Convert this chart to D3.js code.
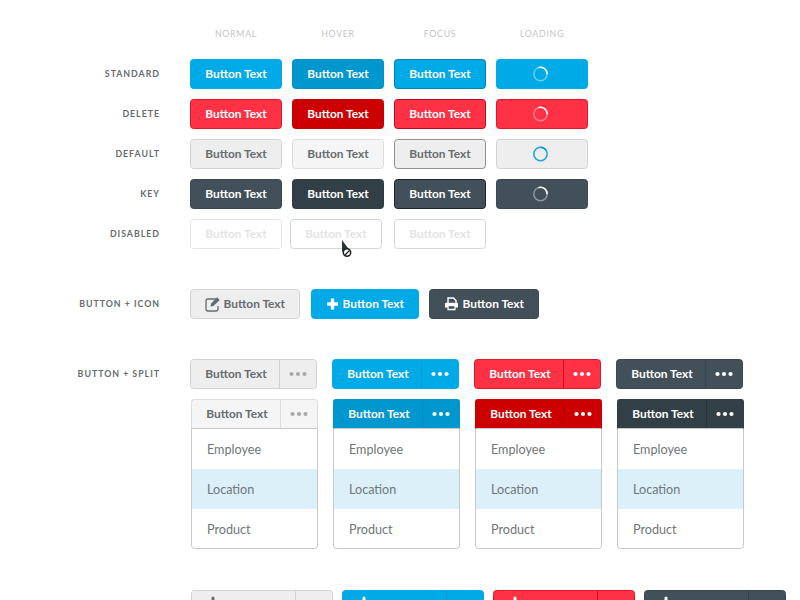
<!DOCTYPE html>
<html><head><meta charset="utf-8">
<script src="https://cdnjs.cloudflare.com/ajax/libs/d3/7.8.5/d3.min.js"></script>
<style>html,body{margin:0;background:#fff;overflow:hidden}svg{display:block}
text{font-family:"Lato","Noto Sans",sans-serif}</style></head><body>
<svg id="c" width="800" height="600"></svg>
<script>
const states=["NORMAL","HOVER","FOCUS","LOADING"];
const rowNames=["STANDARD","DELETE","DEFAULT","KEY","DISABLED"];
const sectionLabels=["BUTTON + ICON","BUTTON + SPLIT"];
const buttonText="Button Text";
const menuItems=["Employee","Location","Product"];
const iconKinds=["edit","plus","print"];
const splitKinds=["default","standard","delete","key"];

const theme={
 standard:{normal:["#00aae7","#00aae7","#fff"],hover:["#0097cf","#0090c6","#fff"],focus:["#00aae7","#0080ae","#fff"],spin:"#fff"},
 delete:{normal:["#ff3145","#e0162b","#fff"],hover:["#cc0000","#c40000","#fff"],focus:["#ff3145","#b80f20","#fff"],spin:"#fff"},
 default:{normal:["#eeeeee","#d2d2d2","#666c70"],hover:["#f5f5f5","#dcdcdc","#666c70"],focus:["#eeeeee","#8f8f8f","#666c70"],spin:"#0f9fdc"},
 key:{normal:["#415059","#3a4851","#fff"],hover:["#333f47","#2f3a41","#fff"],focus:["#415059","#1e272d","#fff"],spin:"#fff"},
 disabled:{normal:["#ffffff","#e4e4e4","#e4e4e4"],hover:["#ffffff","#d4d4d4","#e4e4e4"],focus:["#ffffff","#d8d8d8","#e4e4e4"]}
};
const rowKeys=["standard","delete","default","key","disabled"];
const stateKeys=["normal","hover","focus"];

const svg=d3.select("#c");
const colX=d3.scalePoint().domain(states).range([190,496]);
const rowY=d3.scalePoint().domain(rowNames).range([59,219]);
const splitX=d3.scalePoint().domain(splitKinds).range([190,616]);
const FONT=11.9, LS=0, TY=14.5;

function box(g,x,y,w,h,fill,stroke,r=3){
  return g.append("rect").attr("x",x+.5).attr("y",y+.5).attr("width",w-1).attr("height",h-1).attr("rx",r).attr("fill",fill).attr("stroke",stroke).attr("stroke-width",1);
}
function label(g,t,x,y,col,anchor="middle",weight=700,size=FONT,ls=LS){
  return g.append("text").attr("x",x).attr("y",y).attr("text-anchor",anchor).attr("dominant-baseline","central")
   .attr("font-size",size).attr("font-weight",weight).attr("letter-spacing",ls).attr("fill",col).text(t);
}
function side(t,y){
  label(svg,t,160,y-.5,"#666c70","end",700,8.8,.98);
}
states.forEach(s=>label(svg,s,colX(s)+46,33,"#c4c4c4","middle",400,8.8,.7));
rowNames.forEach((n,i)=>{
  side(n,rowY(n)+15);
  const k=rowKeys[i], th=theme[k];
  states.forEach((s,j)=>{
    if(j===3){
      if(k==="disabled")return;
      const [f,b]=th.normal,x=colX(s),y=rowY(n);
      box(svg,x,y,92,30,f,b);
      const cx=x+44.5,cy=y+15;
      const base=k==="default"?0.95:0.4;
      svg.append("circle").attr("cx",cx).attr("cy",cy).attr("r",6.7).attr("fill","none").attr("stroke",th.spin).attr("stroke-opacity",base).attr("stroke-width",1.5);
      svg.append("path").attr("d",d3.arc()({innerRadius:5.95,outerRadius:7.45,startAngle:k==="default"?0:-0.3,endAngle:k==="default"?1:1.6}))
        .attr("transform",`translate(${cx},${cy})`).attr("fill",th.spin).attr("fill-opacity",.95);
      return;
    }
    const [f,b,c]=th[stateKeys[j]];
    const off=(k==="disabled"&&j===1)?-2:0;
    const x=colX(s)+off,y=rowY(n);
    box(svg,x,y,92,30,f,b);
    label(svg,buttonText,x+46,y+TY,c);
  });
});
svg.append("path").attr("d",d3.line()([[342,240],[342,252],[344.6,249.6],[349,249.4]])+"Z").attr("fill","#27323a");
svg.append("circle").attr("cx",347).attr("cy",252.5).attr("r",3.7).attr("fill","#fff").attr("stroke","#222").attr("stroke-width",1.5);
svg.append("line").attr("x1",345).attr("y1",255).attr("x2",349.5).attr("y2",250.5).attr("stroke","#222").attr("stroke-width",1.3);

function icon(g,kind,x,y,c,bg){
  if(kind==="edit"){
    g.append("path").attr("d",`M${x+10} ${y-5}H${x+2}a2 2 0 0 0-2 2v8a2 2 0 0 0 2 2h8a2 2 0 0 0 2-2v-3`).attr("fill","none").attr("stroke",c).attr("stroke-width",1.3);
    g.append("path").attr("d",`M${x+4.5} ${y+2.5}l.6-3 6-6.2 2.6 2.6-6.2 6z`).attr("fill",c);
  } else if(kind==="plus"){
    g.append("path").attr("d",`M${x+3.8} ${y-5.5}h3.4v3.8H${x+11}v3.4H${x+7.2}v3.8h-3.4v-3.8H${x}v-3.4h${3.8}z`).attr("fill",c);
  } else {
    g.append("path").attr("d",`M${x+3} ${y-1}v-5h5.5l2.5 2.5v2.5`).attr("fill","none").attr("stroke",c).attr("stroke-width",1.4);
    g.append("path").attr("d",`M${x+1.2} ${y-1.2}h10.6a1.2 1.2 0 0 1 1.2 1.2v3.6h-2.4v2.6H${x+2.4}V${y+3.6}H${x}V${y}a1.2 1.2 0 0 1 1.2-1.2z`).attr("fill",c);
    g.append("rect").attr("x",x+3.6).attr("y",y+2.2).attr("width",5.8).attr("height",2.6).attr("fill",bg);
  }
}
side(sectionLabels[0],304);
const iconButtons=[[190,110,"default",206],[311,108,"standard",327],[429,110,"key",445]];
iconKinds.forEach((ic,i)=>{
  const [x,w,k,ix]=iconButtons[i],[f,b,c]=theme[k].normal;
  box(svg,x,289,w,30,f,b);
  icon(svg,ic,ix,304,c,f);
  label(svg,buttonText,x+w-15,289+TY,c,"end");
});
function dots(g,cx,cy,c){[-6.5,0,6.5].forEach(d=>g.append("circle").attr("cx",cx+d).attr("cy",cy).attr("r",2.1).attr("fill",c));}
const divCol={default:"#d2d2d2",standard:"#0a9bd0",delete:"#cc1020",key:"#36434b"};
const divHover={default:"#dcdcdc",standard:"#0087b8",delete:"#b00000",key:"#28333a"};
side(sectionLabels[1],374);
splitKinds.forEach(k=>{
  const x=splitX(k),th=theme[k],[f,b,c]=th.normal;
  box(svg,x,359,127,30,f,b);
  svg.append("line").attr("x1",x+89.5).attr("x2",x+89.5).attr("y1",360).attr("y2",388).attr("stroke",divCol[k]);
  label(svg,buttonText,x+46,359+TY,c);
  dots(svg,x+108,374,k==="default"?"#a9a9a9":"#fff");
  const mx=x+1,[hf,hb,hc]=th.hover;
  svg.append("rect").attr("x",mx+.5).attr("y",399.5).attr("width",126).attr("height",149).attr("rx",3).attr("fill","#fff").attr("stroke","#c8c8c8");
  svg.append("path").attr("d",`M${mx} 429V402a3 3 0 0 1 3-3H${mx+124}a3 3 0 0 1 3 3V429Z`).attr("fill",hf);
  if(k==="default"){
    svg.append("path").attr("d",`M${mx+.5} 428.5V402.5a3 3 0 0 1 3-3H${mx+123.5}a3 3 0 0 1 3 3V428.5Z`).attr("fill",hf).attr("stroke","#dcdcdc");
  }
  svg.append("line").attr("x1",mx+.5).attr("x2",mx+126.5).attr("y1",428.5).attr("y2",428.5).attr("stroke","#c8c8c8");
  svg.append("line").attr("x1",mx+89.5).attr("x2",mx+89.5).attr("y1",400).attr("y2",428).attr("stroke",divHover[k]);
  label(svg,buttonText,mx+46,399+TY,hc);
  dots(svg,mx+108,414,k==="default"?"#a9a9a9":"#fff");
  menuItems.forEach((m,i)=>{
    if(i===1)svg.append("rect").attr("x",mx+1).attr("y",469).attr("width",125).attr("height",40).attr("fill","#dcf0fa");
    label(svg,m,mx+16,449+i*40,"#6f767a","start",400,12.6,0);
  });
});
const bottomX=d3.scalePoint().domain(splitKinds).range([191,644]);
splitKinds.forEach(k=>{
  const x=bottomX(k),[f,b,c]=theme[k].normal;
  box(svg,x,590,142,30,f,b);
  svg.append("line").attr("x1",x+104.5).attr("x2",x+104.5).attr("y1",591).attr("y2",620).attr("stroke",divCol[k]);
  svg.append("path").attr("d",`M${x+20.5} 600V598a1.5 1.5 0 0 1 3 0v2Z`).attr("fill",c);
});
</script></body></html>
